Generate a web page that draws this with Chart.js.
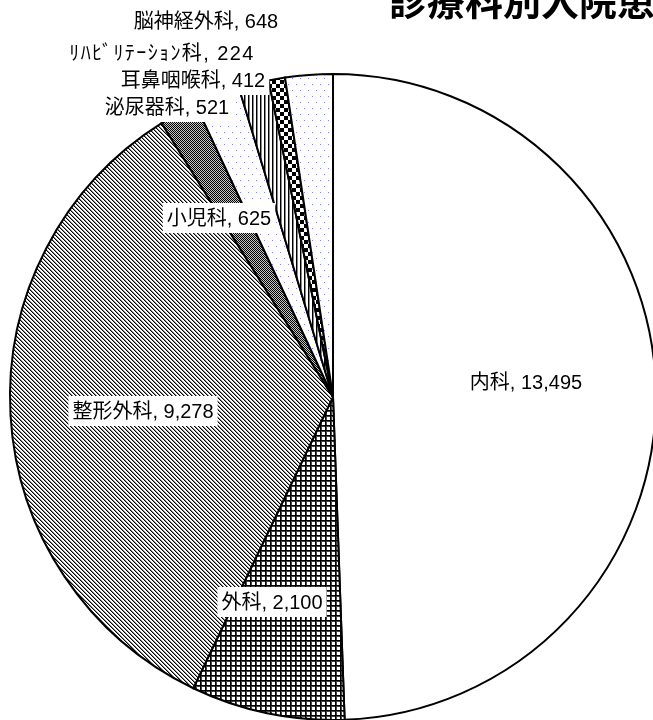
<!DOCTYPE html>
<html>
<head>
<meta charset="utf-8">
<script src="https://cdn.jsdelivr.net/npm/chart.js@4/dist/chart.umd.min.js"></script>
<style>
  html, body { margin: 0; padding: 0; background: #fff; overflow: hidden; }
  #wrap { position: relative; width: 653px; height: 720px; overflow: hidden; }
  #c { position: absolute; left: 0; top: 0; }
</style>
</head>
<body>
<div id="wrap"><canvas id="c" width="700" height="760"></canvas></div>
<script>
// Inpatients by department
const departments = ['内科', '外科', '整形外科', '泌尿器科', '小児科', '耳鼻咽喉科', 'ﾘﾊﾋﾞﾘﾃｰｼｮﾝ科', '脳神経外科'];
const inpatients = [13495, 2100, 9278, 521, 625, 412, 224, 648];
const chartTitle = '診療科別入院患者数';

// Label anchor offsets (px) from the pie centre, one per department
const labelOffsets = [[193, -15], [-61, 205], [-190, 14], [-166, -290], [-114, -179], [-140, -317], [-171, -344], [-127, -376]];
// Extra letter spacing for the half-width katakana label
const labelSpacing = [0, 0, 0, 0, 0, 0, 1.4, 0];

const LABEL_FONT = '20px "Liberation Sans", "Noto Sans CJK JP", sans-serif';
const TITLE_FONT = 'bold 38px "Noto Sans CJK JP", sans-serif';

// ---- monochrome fill patterns ----
function makeTile(w, h, draw) {
  const t = document.createElement('canvas');
  t.width = w; t.height = h;
  const g = t.getContext('2d');
  g.fillStyle = '#fff';
  g.fillRect(0, 0, w, h);
  draw(g);
  return t;
}
function dot(g, x, y, color) { g.fillStyle = color; g.fillRect(x, y, 1, 1); }

const patCtx = document.createElement('canvas').getContext('2d');
const pattern = tile => patCtx.createPattern(tile, 'repeat');

const gridTile = makeTile(5, 5, g => {
  for (let i = 0; i < 5; i++) {
    dot(g, 1, i, '#444'); dot(g, i, 1, '#444');
  }
  for (let i = 0; i < 5; i++) {
    dot(g, 0, i, '#000'); dot(g, i, 0, '#000');
  }
});
const diagTile = makeTile(4, 4, g => {
  for (let i = 0; i < 4; i++) {
    dot(g, i, i, '#000');
    dot(g, (i + 1) % 4, i, '#8a8a8a');
  }
});
const ditherTile = makeTile(2, 2, g => {
  dot(g, 0, 0, '#000'); dot(g, 1, 1, '#000');
  dot(g, 1, 0, '#c4c4c4'); dot(g, 0, 1, '#c4c4c4');
});
const dotsTile = makeTile(8, 12, g => {
  dot(g, 0, 0, '#8484ff'); dot(g, 4, 6, '#8484ff');
});
const vstripeTile = makeTile(4, 4, g => {
  for (let y = 0; y < 4; y++) { dot(g, 0, y, '#000'); dot(g, 1, y, '#888'); }
});
const checkerTile = makeTile(8, 8, g => {
  g.fillStyle = '#000';
  g.fillRect(0, 0, 4, 4);
  g.fillRect(4, 4, 4, 4);
});

const sliceFills = [
  '#ffffff',
  pattern(gridTile),
  pattern(diagTile),
  pattern(ditherTile),
  pattern(dotsTile),
  pattern(vstripeTile),
  pattern(checkerTile),
  pattern(dotsTile)
];

// Title (left-aligned, runs past the right edge)
const titlePlugin = {
  id: 'pieTitle',
  afterDraw(chart) {
    const ctx = chart.ctx;
    ctx.save();
    ctx.font = TITLE_FONT;
    ctx.fillStyle = '#000';
    ctx.textAlign = 'left';
    ctx.textBaseline = 'alphabetic';
    ctx.fillText(chartTitle, 389, 15);
    ctx.restore();
  }
};

// "name, value" data labels on white boxes
const labelPlugin = {
  id: 'sliceLabels',
  afterDatasetsDraw(chart) {
    const ctx = chart.ctx;
    const first = chart.getDatasetMeta(0).data[0];
    const cx = first.x, cy = first.y;
    ctx.save();
    ctx.font = LABEL_FONT;
    ctx.textAlign = 'center';
    ctx.textBaseline = 'middle';
    departments.forEach((name, i) => {
      const text = name + ', ' + inpatients[i].toLocaleString('en-US');
      ctx.letterSpacing = labelSpacing[i] + 'px';
      const x = cx + labelOffsets[i][0];
      const y = cy + labelOffsets[i][1];
      const w = ctx.measureText(text).width;
      ctx.fillStyle = '#fff';
      ctx.fillRect(x - w / 2 - 4, y - 15, w + 8, 30);
      ctx.fillStyle = '#000';
      ctx.fillText(text, x, y + 1);
    });
    ctx.restore();
  }
};

new Chart(document.getElementById('c'), {
  type: 'pie',
  data: {
    labels: departments,
    datasets: [{
      data: inpatients,
      backgroundColor: sliceFills,
      borderColor: '#000',
      borderWidth: 2,
      borderJoinStyle: 'miter'
    }]
  },
  options: {
    responsive: false,
    animation: false,
    events: [],
    radius: 323,
    layout: { padding: { left: 9, top: 73, right: 43, bottom: 39 } },
    plugins: {
      legend: { display: false },
      title: { display: false },
      tooltip: { enabled: false }
    }
  },
  plugins: [labelPlugin, titlePlugin]
});
</script>
</body>
</html>
